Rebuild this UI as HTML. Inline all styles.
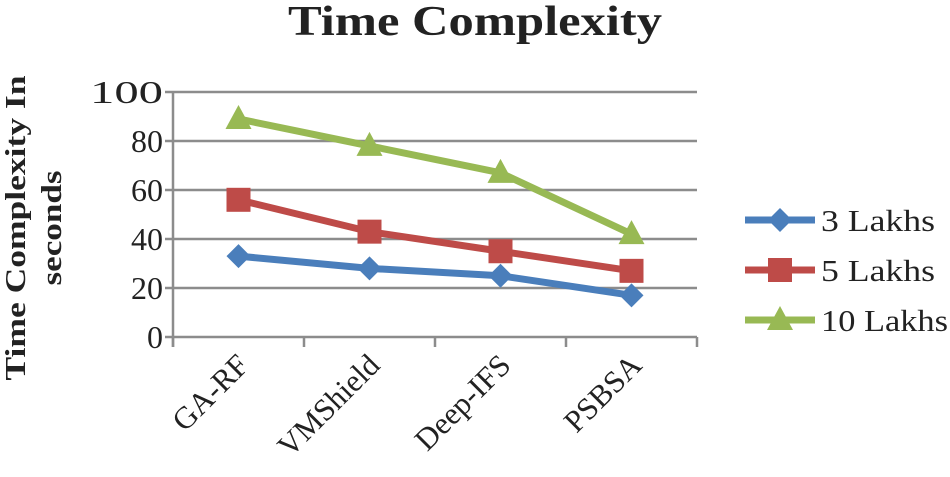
<!DOCTYPE html>
<html><head><meta charset="utf-8"><style>
body{margin:0;background:#fff;}
svg text{font-family:"Liberation Serif",serif;fill:#222;}
</style></head><body>
<svg width="950" height="472">
<text x="475" y="35" text-anchor="middle" font-size="42" font-weight="bold" textLength="374" lengthAdjust="spacingAndGlyphs">Time Complexity</text>
<g id="grid"></g><g id="axes"></g><g id="series"></g><g id="legend"></g>
<text transform="translate(25,228) rotate(-90)" text-anchor="middle" font-size="28" font-weight="bold"><tspan x="0" dy="0" textLength="305" lengthAdjust="spacingAndGlyphs">Time Complexity In</tspan><tspan x="0" dy="36" textLength="115" lengthAdjust="spacingAndGlyphs">seconds</tspan></text>
</svg>
<script>
const categories=["GA-RF","VMShield","Deep-IFS","PSBSA"];
const seriesNames=["3 Lakhs","5 Lakhs","10 Lakhs"];
const s3=[33,28,25,17];
const s5=[56,43,35,27];
const s10=[89,78,67,42];
const yTicks=[0,20,40,60,80,100];
const colors=["#4a7ebb","#be4b48","#98b954"];
const NS="http://www.w3.org/2000/svg";
const X0=173,X1=697,Y0=337,Y1=92;
const xs=i=>X0+(i+0.5)*(X1-X0)/categories.length;
const ys=v=>Y0-(v/100)*(Y0-Y1);
function mk(t,a,p){const e=document.createElementNS(NS,t);for(const k in a)e.setAttribute(k,a[k]);p.appendChild(e);return e;}
const grid=document.getElementById('grid'),axes=document.getElementById('axes'),ser=document.getElementById('series'),leg=document.getElementById('legend');
yTicks.forEach(v=>{
const l=mk('line',{x1:X0-8,x2:X1,y1:ys(v),y2:ys(v),stroke:'#8c8c8c','stroke-width':2.5},grid);


const t=mk('text',{x:X0-10,y:ys(v)+11,'text-anchor':'end','font-size':32},axes);
t.textContent=v;
if(String(v).length===3){t.setAttribute('textLength',73);t.setAttribute('lengthAdjust','spacingAndGlyphs');}


});
const ax=mk('line',{x1:X0,x2:X0,y1:Y1,y2:Y0+10,stroke:'#8c8c8c','stroke-width':2.5},axes);


for(let i=0;i<=categories.length;i++){
const x=X0+i*(X1-X0)/categories.length;
const tk=mk('line',{x1:x,x2:x,y1:Y0,y2:Y0+10,stroke:'#8c8c8c','stroke-width':2.5},axes);


}
categories.forEach((c,i)=>{
const t=mk('text',{transform:`translate(${xs(i)+12},${Y0+30}) rotate(-45)`,'text-anchor':'end','font-size':31},axes);
t.textContent=c;


});
function marker(k,x,y,p){
let e;
if(k===0)e=mk('polygon',{points:`${x},${y-12} ${x+12},${y} ${x},${y+12} ${x-12},${y}`,fill:colors[0]},p);
else if(k===1)e=mk('rect',{x:x-12,y:y-12,width:24,height:24,fill:colors[1]},p);
else e=mk('polygon',{points:`${x},${y-14} ${x+13},${y+10} ${x-13},${y+10}`,fill:colors[2]},p);


}
[s3,s5,s10].forEach((d,k)=>{
const g=mk('g',{},ser);


const pl=mk('polyline',{points:d.map((v,i)=>xs(i)+','+ys(v)).join(' '),fill:'none',stroke:colors[k],'stroke-width':7,'stroke-linejoin':'round'},g);


d.forEach((v,i)=>marker(k,xs(i),ys(v),g));
const ly=220+k*50;
const lg=mk('g',{},leg);


mk('line',{x1:745,x2:815,y1:ly,y2:ly,stroke:colors[k],'stroke-width':7},lg);
marker(k,780,ly,lg);
const t=mk('text',{x:821,y:ly+11,'font-size':31},lg);
t.textContent=seriesNames[k];
t.setAttribute('textLength',seriesNames[k].length===8?127:114);
t.setAttribute('lengthAdjust','spacingAndGlyphs');


});
</script>
</body></html>
